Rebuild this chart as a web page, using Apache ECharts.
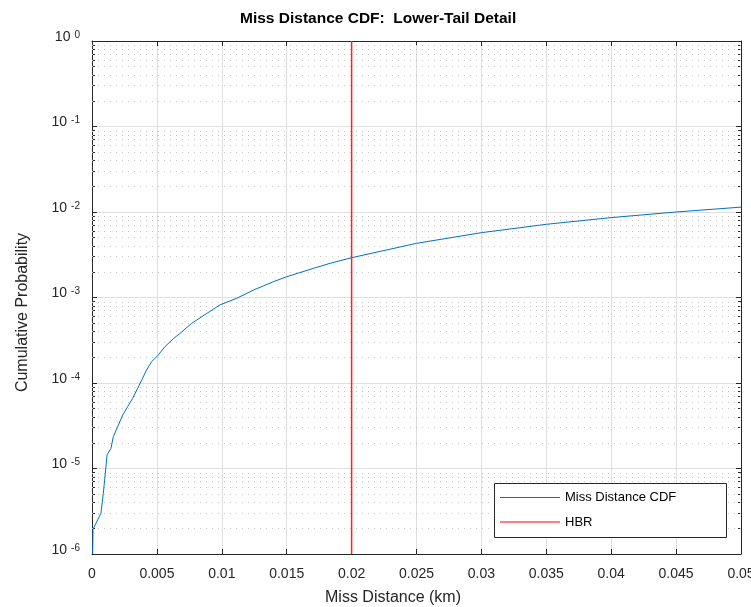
<!DOCTYPE html>
<html>
<head>
<meta charset="utf-8">
<script src="https://cdn.jsdelivr.net/npm/echarts@6/dist/echarts.min.js"></script>
<style>
html,body{margin:0;padding:0;background:#fff;}
#main{width:751px;height:607px;}
</style>
</head>
<body>
<div id="main"></div>
<script>
// Miss distance (km) and cumulative probability
var missDistance = [0.00005, 0.00008, 0.00069, 0.00087, 0.00105, 0.00116, 0.00146, 0.00164, 0.00198,
  0.00236, 0.00275, 0.00313, 0.00352, 0.00383, 0.0042, 0.0046, 0.0051, 0.00562, 0.00627, 0.00678,
  0.00768, 0.00884, 0.00986, 0.01115, 0.01243, 0.01397, 0.015, 0.01705, 0.01834, 0.02, 0.025,
  0.03, 0.035, 0.04, 0.045, 0.05];
var cdfValues = [1e-6, 1.95e-6, 3.0e-6, 5.1e-6, 9.6e-6, 1.44e-5, 1.72e-5, 2.35e-5, 3.08e-5,
  4.2e-5, 5.3e-5, 6.6e-5, 8.7e-5, 1.08e-4, 1.42e-4, 1.78e-4, 2.12e-4, 2.66e-4, 3.3e-4, 3.8e-4,
  4.99e-4, 6.5e-4, 8.2e-4, 9.8e-4, 1.22e-3, 1.53e-3, 1.75e-3, 2.19e-3, 2.51e-3, 2.92e-3, 4.3e-3,
  5.73e-3, 7.18e-3, 8.6e-3, 1.0e-2, 1.14e-2];
var hbrValue = 0.02;
var hbrY = [1e-6, 1];
var xTickValues = [0, 0.005, 0.01, 0.015, 0.02, 0.025, 0.03, 0.035, 0.04, 0.045, 0.05];
var yDecadeExponents = [-6, -5, -4, -3, -2, -1, 0];
var minorMantissas = [2, 3, 4, 5, 6, 7, 8, 9];

// minor tick positions expressed as exponents (log10 of 2..9 x 10^e)
var minorExponents = [];
for (var i = 0; i < yDecadeExponents.length - 1; i++) {
  for (var j = 0; j < minorMantissas.length; j++) {
    minorExponents.push(yDecadeExponents[i] + Math.log(minorMantissas[j]) / Math.LN10);
  }
}
var cdfData = missDistance.map(function (x, k) { return [x, cdfValues[k]]; });
var hbrData = hbrY.map(function (y) { return [hbrValue, y]; });

var FONT = 'Liberation Sans, Arial, Helvetica, sans-serif';
var AX = '#262626';

var chart = echarts.init(document.getElementById('main'), null, {renderer: 'canvas'});
var baseY = {type: 'log', logBase: 10, min: 1e-6, max: 1, interval: 1};
function yAx(extra) { return Object.assign({}, baseY, extra); }
var expY = {type: 'value', min: yDecadeExponents[0], max: yDecadeExponents[yDecadeExponents.length - 1]};
function eAx(extra) { return Object.assign({}, expY, extra); }

chart.setOption({
  animation: false,
  backgroundColor: '#fff',
  textStyle: {fontFamily: FONT},
  title: {
    text: 'Miss Distance CDF:  Lower-Tail Detail',
    left: 235, top: 6,
    textStyle: {fontFamily: FONT, fontSize: 15.5, fontWeight: 'bold', color: '#000'}
  },
  grid: {left: 92, right: 10, top: 41, bottom: 53, containLabel: false, outerBoundsMode: 'none'},
  legend: {
    orient: 'vertical', left: 500, top: 491, padding: 0, itemGap: 11.5,
    itemWidth: 60, itemHeight: 1, z: 101,
    data: [
      {name: 'Miss Distance CDF', icon: 'path://M0,0H60V1H0Z'},
      {name: 'HBR', icon: 'path://M0,0H60V1H0Z'}
    ],
    textStyle: {fontFamily: FONT, fontSize: 13, color: '#000'}
  },
  graphic: [{
    type: 'rect', z: 100,
    shape: {x: 494.5, y: 483.5, width: 232, height: 54},
    style: {fill: '#fff', stroke: AX, lineWidth: 1}
  }],
  xAxis: [{
    type: 'value', position: 'bottom', min: 0, max: 0.05, interval: 0.005,
    name: 'Miss Distance (km)', nameLocation: 'middle', nameGap: 36,
    nameTextStyle: {fontFamily: FONT, fontSize: 16, color: AX, padding: [0, 47, 0, 0]},
    axisLine: {onZero: false, lineStyle: {color: AX, width: 1}},
    axisTick: {inside: true, length: 5, lineStyle: {color: AX}},
    axisLabel: {margin: 13, fontFamily: FONT, fontSize: 14, color: AX,
      formatter: function (v) { return String(Number(v.toFixed(3))); }},
    splitLine: {show: true, lineStyle: {color: '#dfdfdf', width: 1}}
  }, {
    type: 'value', position: 'top', min: 0, max: 0.05, interval: 0.005,
    axisLine: {onZero: false, lineStyle: {color: AX, width: 1}},
    axisTick: {inside: true, length: 5, lineStyle: {color: AX}},
    axisLabel: {show: false}, splitLine: {show: false}
  }],
  yAxis: [
    yAx({
      position: 'left',
      name: 'Cumulative Probability', nameLocation: 'middle', nameGap: 61,
      nameTextStyle: {fontFamily: FONT, fontSize: 16, color: AX, padding: [0, 30, 0, 0]},
      axisLine: {show: true, onZero: false, lineStyle: {color: AX, width: 1}},
      axisTick: {show: true, inside: true, length: 5, lineStyle: {color: AX}},
      axisLabel: {
        margin: 12, padding: [0, 0, 8, 0],
        formatter: function (v) {
          var e = Math.round(Math.log(v) / Math.LN10);
          return '{b|10}{s|' + e + '}';
        },
        rich: {
          b: {fontFamily: FONT, fontSize: 14, lineHeight: 14, color: AX, verticalAlign: 'bottom'},
          s: {fontFamily: FONT, fontSize: 10, lineHeight: 10, color: AX, verticalAlign: 'top', padding: [0, 0, 8, 4]}
        }
      },
      splitLine: {show: true, lineStyle: {color: '#dfdfdf', width: 1}}
    }),
    yAx({
      position: 'right',
      axisLine: {show: true, onZero: false, lineStyle: {color: AX, width: 1}},
      axisTick: {show: true, inside: true, length: 5, lineStyle: {color: AX}},
      axisLabel: {show: false}, splitLine: {show: false}
    }),
    eAx({
      position: 'left',
      axisLine: {show: false, onZero: false},
      axisTick: {show: true, inside: true, length: 3, lineStyle: {color: AX}, customValues: minorExponents},
      axisLabel: {show: false}, splitLine: {show: false}
    }),
    eAx({
      position: 'right',
      axisLine: {show: false, onZero: false},
      axisTick: {show: true, inside: true, length: 3, lineStyle: {color: AX}, customValues: minorExponents},
      axisLabel: {show: false}, splitLine: {show: false}
    })
  ],
  series: [{
    name: 'minor-grid', type: 'line', data: [], silent: true, yAxisIndex: 2, z: 1,
    markLine: {
      silent: true, symbol: 'none', animation: false,
      label: {show: false},
      lineStyle: {color: '#c8c8c8', width: 1, type: [1, 5]},
      data: minorExponents.map(function (v) { return {yAxis: v}; })
    }
  }, {
    name: 'Miss Distance CDF', type: 'line', data: cdfData, yAxisIndex: 0,
    symbol: 'none', showSymbol: false, z: 5,
    lineStyle: {color: '#0072BD', width: 1},
    itemStyle: {color: '#0072BD'}
  }, {
    name: 'HBR', type: 'line', data: hbrData, yAxisIndex: 0,
    symbol: 'none', showSymbol: false, z: 6,
    lineStyle: {color: '#FF2020', width: 1.5, opacity: 1},
    itemStyle: {color: '#FF0000'}
  }]
});
</script>
</body>
</html>
